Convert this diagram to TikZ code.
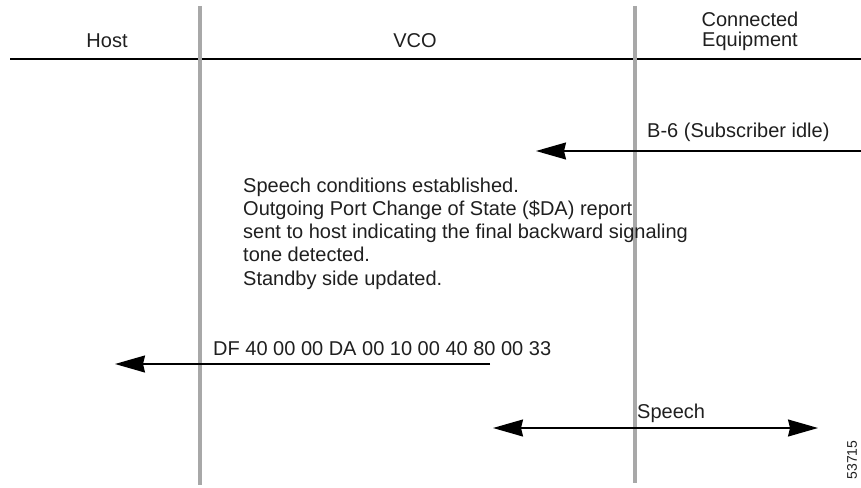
\documentclass[tikz,border=0pt]{standalone}
\usepackage{fontspec}
\setmainfont{Liberation Sans}
\usetikzlibrary{arrows.meta}
\definecolor{lifegray}{HTML}{A8A8A8}
\tikzset{
  lifeline/.style={line width=3.5pt, draw=lifegray},
  msg/.style={line width=1.5pt, -{Stealth[length=30pt,width=17pt,inset=2pt]}},
  msgboth/.style={line width=1.5pt, {Stealth[length=30pt,width=17pt,inset=2pt]}-{Stealth[length=30pt,width=17pt,inset=2pt]}},
  lbl/.style={font=\fontsize{20}{23.25}\selectfont, inner sep=0pt, anchor=base west, text=black!88},
  hdr/.style={font=\fontsize{20}{20.5}\selectfont, inner sep=0pt, anchor=base, align=center, text=black!88},
}
\begin{document}
\begin{tikzpicture}[x=1pt,y=-1pt]
\useasboundingbox (0,0) rectangle (861,487);

% headers
\node[hdr] (host) at (107,48) {Host};
\node[hdr] (vco) at (415,48) {VCO};
\node[hdr, anchor=base] (equip) at (750,47) {Connected\\Equipment};

\coordinate (hdrL) at (10,59);
\coordinate (hdrR) at (861,59);
\draw[line width=1.3pt] (hdrL) -- (hdrR);

% lifelines
\coordinate (hostTop) at (200,6);
\coordinate (hostBot) at (200,485);
\coordinate (eqTop) at (635,6);
\coordinate (eqBot) at (635,483);
\draw[lifeline] (hostTop) -- (hostBot);
\draw[lifeline] (eqTop) -- (eqBot);

% B-6 from connected equipment
\coordinate (b6from) at (861,151);
\coordinate (b6to) at (536,151);
\draw[msg] (b6from) -- (b6to);
\node[lbl] (b6) at (647,137) {B-6 (Subscriber idle)};

% VCO actions (base = last line)
\node[lbl, anchor=base west, align=left] (note) at (243,285)
  {Speech conditions established.\\
   Outgoing Port Change of State (\$DA) report\\
   sent to host indicating the final backward signaling\\
   tone detected.\\
   Standby side updated.};

% report to host
\coordinate (dafrom) at (490,364);
\coordinate (dato) at (115,364);
\draw[msg] (dafrom) -- (dato);
\node[lbl] (da) at (213,355) {DF 40 00 00 DA 00 10 00 40 80 00 33};

% speech path
\coordinate (spL) at (493,428);
\coordinate (spR) at (818,428);
\draw[msgboth] (spL) -- (spR);
\node[lbl] (speech) at (637,418) {Speech};

\node[font=\fontsize{14}{14}\selectfont, inner sep=0pt, rotate=90, text=black!88] (fig) at (852,460) {53715};
\end{tikzpicture}
\end{document}
